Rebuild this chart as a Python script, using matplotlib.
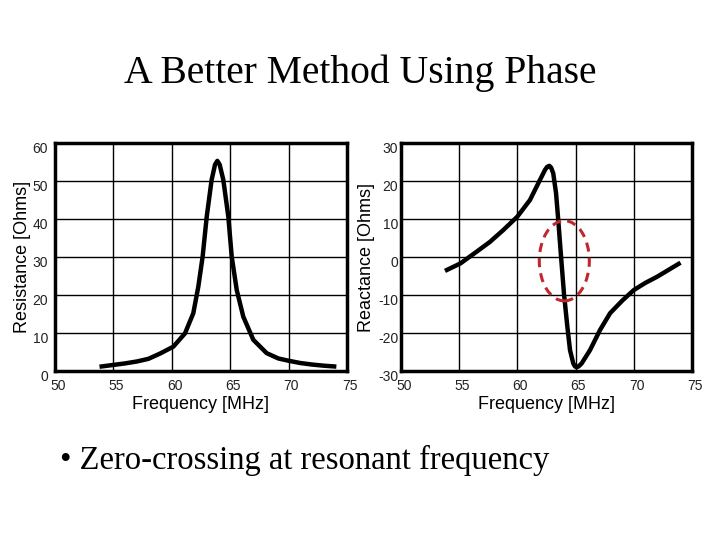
import matplotlib.pyplot as plt
import matplotlib.transforms as mtransforms
from matplotlib.patches import Ellipse

# values
res_freq = [54.0, 55.0, 56.0, 57.0, 58.0, 59.0, 60.13, 61.13, 61.84, 62.27, 62.64,
            62.99, 63.41, 63.7, 63.9, 64.1, 64.41, 64.84, 65.13, 65.56, 66.12,
            66.98, 68.12, 69.12, 70.0, 71.0, 72.0, 73.0, 73.9]
resistance = [1.2, 1.6, 2.0, 2.5, 3.2, 4.6, 6.4, 9.9, 15.2, 22.2, 30.1,
              40.6, 50.3, 54.3, 55.3, 54.3, 50.3, 40.6, 30.1, 21.3, 14.3,
              8.2, 4.7, 3.3, 2.7, 2.1, 1.7, 1.4, 1.2]

rea_freq = [53.95, 55.1, 56.5, 57.65, 58.79, 59.99, 61.08, 61.94, 62.37, 62.55, 62.74,
            62.9, 63.08, 63.32, 63.51, 63.75, 64.0, 64.29, 64.52, 64.8, 64.95, 65.09,
            65.25, 65.52, 66.24, 67.1, 67.96, 69.0, 70.0, 71.0, 72.0, 73.85]
reactance = [-3.4, -1.7, 1.4, 4.0, 7.1, 10.6, 15.0, 20.3, 22.9, 23.7, 24.0,
             23.5, 22.0, 16.8, 9.7, 0.1, -9.6, -18.3, -24.5, -28.0, -28.8, -29.0,
             -28.8, -28.0, -24.5, -19.2, -14.8, -11.5, -8.7, -6.8, -5.2, -1.8]

x_ticks = [50, 55, 60, 65, 70, 75]

plt.rcParams['font.family'] = ['Liberation Sans', 'DejaVu Sans']
plt.rcParams['axes.unicode_minus'] = False

fig = plt.figure(figsize=(7.2, 5.4), dpi=100)

fig.text(0.5, 0.865, 'A Better Method Using Phase', ha='center', va='center',
         fontsize=28.5, family='Liberation Serif')
fig.text(0.083, 0.148, '\u2022 Zero-crossing at resonant frequency', ha='left', va='center',
         fontsize=23.5, family=['Liberation Serif', 'DejaVu Serif'])

ax1 = fig.add_axes([55/720, 1 - 371/540, 292/720, 228/540])
ax2 = fig.add_axes([401/720, 1 - 371/540, 291/720, 228/540])

def style(ax, ylim, yticks, ylabel, ypad, label_x):
    ax.set_xlim(50, 75)
    ax.set_ylim(*ylim)
    ax.set_xticks(x_ticks)
    ax.set_yticks(yticks)
    ax.grid(True, color='black', linewidth=1)
    ax.set_axisbelow(True)
    for s in ax.spines.values():
        s.set_linewidth(2.5)
    ax.tick_params(axis='x', length=0, labelsize=10, pad=6, labelcolor='#222222')
    ax.tick_params(axis='y', length=0, labelsize=10, pad=ypad, labelcolor='#222222')
    # nudge tick labels like the original slide
    for lab in ax.get_yticklabels():
        lab.set_transform(lab.get_transform() +
                          mtransforms.ScaledTranslation(0, -3/72, fig.dpi_scale_trans))
    for lab in ax.get_xticklabels():
        lab.set_transform(lab.get_transform() +
                          mtransforms.ScaledTranslation(2/72, 0, fig.dpi_scale_trans))
    ax.set_xlabel('Frequency [MHz]', fontsize=13, labelpad=2)
    ax.set_ylabel(ylabel, fontsize=13)
    ax.yaxis.set_label_coords(label_x, 0.5)

ax1.plot(res_freq, resistance, color='black', linewidth=3.2, solid_joinstyle='round')
style(ax1, (0, 60), [0, 10, 20, 30, 40, 50, 60], 'Resistance [Ohms]', 5, -0.083)

ax2.plot(rea_freq, reactance, color='black', linewidth=3.2, solid_joinstyle='round')
style(ax2, (-30, 30), [-30, -20, -10, 0, 10, 20, 30], 'Reactance [Ohms]', 2, -0.088)

ax2.add_patch(Ellipse((64.03, -1.0), 4.3, 21.1, fill=False, edgecolor='#c0282d',
                      linewidth=2.2, linestyle=(0, (3, 2)), zorder=3))

plt.savefig('out.png', dpi=100)
